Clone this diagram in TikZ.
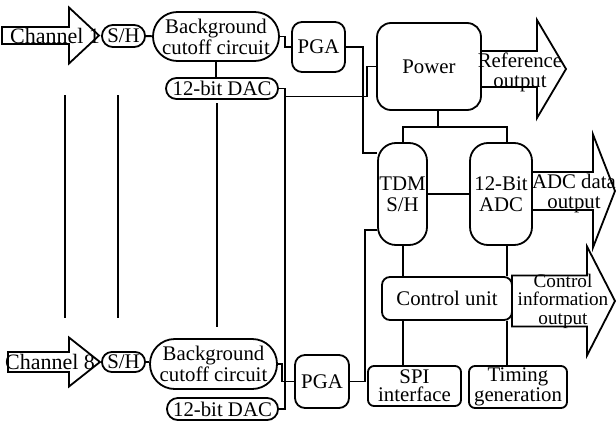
\documentclass[tikz,border=0pt]{standalone}
\usepackage{fontspec}
\setmainfont{Liberation Serif}
\usetikzlibrary{calc}
\tikzset{
  wire/.style={line width=0.9pt},
  block/.style={draw,line width=0.9pt,rounded corners=#1,inner sep=0pt,align=center},
  block/.default=5pt}
% block arrow: x0, head x, tip x, centre y, shaft half height, head half height
\newcommand\blockArrow[6]{
  \draw[wire,fill=white] (#1,#4-#5) -- (#2,#4-#5) -- (#2,#4-#6) -- (#3,#4)
    -- (#2,#4+#6) -- (#2,#4+#5) -- (#1,#4+#5) -- cycle;
}

\begin{document}
\begin{tikzpicture}[x=0.5pt,y=-0.5pt,font=\fontsize{10.4}{10.4}\selectfont]
  \useasboundingbox (0,0) rectangle (616,423);
  \def\xl{403} % left bus
  \def\xr{507} % right bus
  \def\yb{127}
  \coordinate (busL) at (\xl,\yb);
  \coordinate (busR) at (\xr,\yb);
  \coordinate (busM) at (438,\yb);

  % CHANNEL 1
  \blockArrow{2}{69}{99}{35.5}{8.5}{28}
  \node[font=\fontsize{11}{11}\selectfont] (ch1) at (55,36) {Channel 1};
  \node[block=5.4pt,minimum width=21.5pt,minimum height=11pt] (sh1) at (123.5,36) {S/H};
  \node[block=12.2pt,minimum width=63pt,minimum height=24.5pt] (bcc1) at (216,36.5) {Background\\cutoff circuit};
  \node[block=5.2pt,minimum width=56pt,minimum height=10.5pt] (dac1) at (222,88.5) {12-bit DAC};
  \node[block=5pt,minimum width=26.5pt,minimum height=25pt] (pga1) at (318.5,47) {PGA};

  % CHANNEL 8
  \blockArrow{8}{69}{100}{362}{10}{24.5}
  \node[font=\fontsize{11}{11}\selectfont] (ch8) at (50,362) {Channel 8};
  \node[block=4.9pt,minimum width=21.5pt,minimum height=10pt] (sh8) at (123.5,362) {S/H};
  \node[block=12.4pt,minimum width=63.5pt,minimum height=25pt] (bcc8) at (213.5,364) {Background\\cutoff circuit};
  \node[block=5.4pt,minimum width=55.5pt,minimum height=11pt] (dac8) at (222.5,409) {12-bit DAC};
  \node[block=5pt,minimum width=27pt,minimum height=26.5pt] (pga8) at (322,381.5) {PGA};

  % CHANNELS 2-7
  \draw[wire] (65,95) -- (65,318);
  \draw[wire] (118,95) -- (118,318);
  \draw[wire] (217,103) -- (217,327);

  % CORE
  \node[block=7pt,minimum width=52pt,minimum height=43.5pt] (power) at (429,66.5) {Power};
  \node[block=9pt,minimum width=24.5pt,minimum height=51pt] (tdm) at (402.5,194) {TDM\\S/H};
  \node[block=9pt,minimum width=31pt,minimum height=51pt] (adc) at (501,194) {12-Bit\\ADC};
  \node[block=4pt,minimum width=65pt,minimum height=21.5pt] (ctrl) at (447,298.5) {Control unit};
  \node[block=3pt,minimum width=46.5pt,minimum height=20pt,font=\fontsize{10.4}{9}\selectfont] (spi) at (414.5,386) {SPI\\interface};
  \node[block=3pt,minimum width=49pt,minimum height=21pt,font=\fontsize{10.4}{9}\selectfont] (tim) at (518,387) {Timing\\generation};

  % WIRES
  \draw[wire] (sh1) -- (bcc1);
  \draw[wire] (bcc1.south) -- (bcc1.south |- dac1.north);
  \draw[wire] (bcc1.east) -- ++(5,0) |- (pga1.west);
  \draw[wire] (dac1.east) -- ++(6,0) coordinate (bus) |- (dac8.east);
  \coordinate (busJ) at ($(bus)+(0,8)$);
  \draw[wire] (busJ) -- ++(82,0) |- (power.west);
  \draw[wire] (pga1.east) -- ++(17,0) |- ($(tdm.north west)+(0,11)$);
  \draw[wire] (sh8.east) -- (sh8.east -| bcc8.west);
  \draw[wire] (bcc8.east) -- ++(4,0) |- (pga8.west);
  \draw[wire] (pga8.east) -- ++(15,0) |- ($(tdm.south west)+(0,-16)$);
  \draw[wire] (busM) -- (busM |- power.south);
  \draw[wire] (busL |- tdm.north) -- (busL) -- (busR) -- (busR |- adc.north);
  \draw[wire] (tdm.east) -- (adc.west);
  \draw[wire] (busL |- tdm.south) -- (busL |- ctrl.north);
  \draw[wire] (busR |- adc.south) -- (busR |- ctrl.north);
  \draw[wire] (busL |- ctrl.south) -- (busL |- spi.north);
  \draw[wire] (busR |- ctrl.south) -- (busR |- tim.north);

  % OUTPUTS
  \blockArrow{481}{537}{566}{69}{18}{49}
  \node[align=center,font=\fontsize{10.4}{10}\selectfont] (refout) at (520,72) {Reference\\output};
  \blockArrow{532}{593}{615}{191}{19}{56.5}
  \node[align=center,font=\fontsize{10.4}{10}\selectfont] (adcout) at (574,193) {ADC data\\output};
  \blockArrow{512}{587}{615}{301}{25.5}{54.5}
  \node[align=center,font=\fontsize{9.6}{9.3}\selectfont] (ctrlout) at (563,301) {Control\\information\\output};
\end{tikzpicture}
\end{document}
